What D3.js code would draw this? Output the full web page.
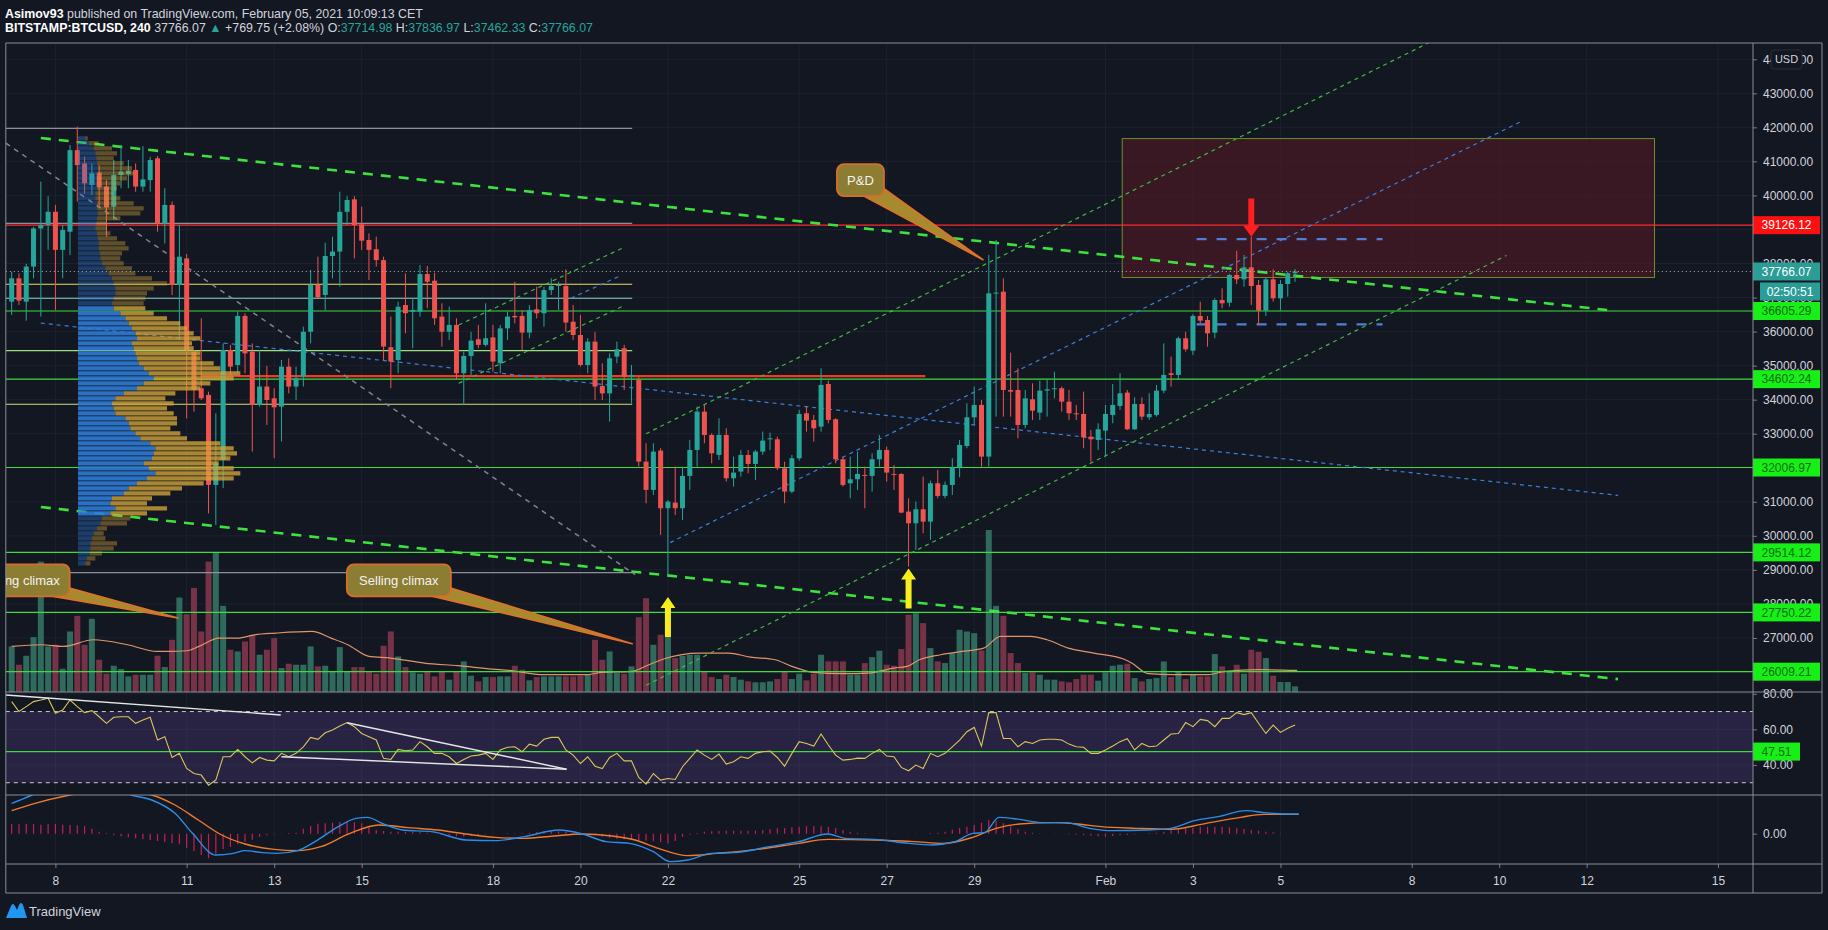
<!DOCTYPE html>
<html lang="en">
<head>
<meta charset="UTF-8">
<title>BITSTAMP:BTCUSD, 240</title>
<script src="https://cdn.jsdelivr.net/npm/d3@7"></script>
<style>
  body { margin: 0; background: #131722; }
  svg text { font-family: "Liberation Sans", Arial, sans-serif; }
</style>
</head>
<body>
<svg id="chart" width="1828" height="930"></svg>
<script>
// ---- data: 4h candles from Jan 7 2021 00:00 UTC ----
const open = [36880,37565,36880,37910,39030,39130,39520,38400,38935,41330,
40940,40305,40670,40260,39670,40600,40630,40750,40260,40450,
41090,39180,39720,37370,38150,35410,34335,34140,31495,32230,
35460,35020,36460,35410,33845,34385,34040,33795,34970,34385,
34675,35995,37370,37075,38220,38350,39520,39885,39150,38690,
38420,38100,35540,35165,36780,36585,36585,37690,37495,36440,
35995,36195,34775,35285,35775,35610,35830,35070,36095,36460,
36460,35970,36655,36540,37220,37340,37340,36290,35900,35020,
35705,34400,34185,35265,35510,34675,34580,32180,31350,32505,
30810,30975,30810,31760,32523,33649,32963,32376,32963,31691,
31887,32376,32112,32474,32836,32836,31985,31299,32278,33600,
33404,33208,34461,33424,32249,31544,31662,31789,31760,32249,
32523,31818,31818,30712,30369,30780,30418,31544,31172,31495,
32014,32640,33482,33845,32327,37124,37173,34285,34285,33257,
34011,33619,34266,34305,34334,33942,33600,33580,32914,32817,
33091,33551,33815,34207,33130,33874,33482,33551,34266,34775,
34726,35803,35440,36459,36341,35969,36928,36850,37663,37535,
37888,37369,36615,37535,36977,37398,37714.98];
const high = [37760,37710,37990,39080,40405,39980,39720,39130,41480,42020,
41140,40940,40890,40450,41040,41480,41040,40940,41450,41140,
41160,40210,39820,39130,38280,35460,36390,34235,33600,35655,
35610,36585,36540,35655,35460,34990,34335,35165,35215,34970,
36145,37810,38200,38610,38790,40110,39980,39980,39670,38885,
38790,38200,36440,36880,37710,36980,37955,37930,37730,36830,
36735,36390,35410,35995,36195,36830,36195,36195,36585,37465,
36635,36780,37320,37320,37565,37465,37830,36780,36490,35805,
35995,35070,35360,35705,35610,35020,34675,32720,32720,32575,
31055,32035,32035,32817,33796,33845,33012,33453,33159,32327,
32523,32523,32523,33061,33032,32914,32180,32376,33698,33796,
33551,34922,34559,33453,32327,32327,32474,32033,32425,32963,
32621,32082,31838,31103,31006,31740,31622,31936,31593,32278,
32817,33894,34383,33992,38250,38690,37565,35382,34922,34285,
34481,34559,34579,34823,34383,34285,33845,34236,33110,33306,
33845,34461,34775,34285,34070,34070,34187,34432,35656,35264,
35851,35998,36517,36879,36459,36977,37271,37692,38377,38250,
38788,37516,37594,37829,37516,37760,37836.97];
const low = [36490,36780,36320,37565,36440,38400,36635,37565,38250,39820,
40060,40010,39670,38790,39280,40210,40210,40110,40110,40110,
38935,38590,37075,35755,33450,33650,33990,30660,30320,31400,
34680,34775,34775,32475,33795,33255,32280,32770,34185,33990,
34385,35655,36980,36635,37565,37320,39130,38150,38400,37515,
37910,35165,34335,34775,35950,35510,36440,36685,36195,35560,
35755,34580,33845,34725,35510,35560,34825,34775,35755,36245,
35460,35805,36390,36145,37075,36635,35995,35755,34970,34775,
33990,33990,33355,35070,34285,33895,32035,30955,31200,30025,
28803,30614,30467,31348,32033,32720,32131,32229,31593,31446,
31740,31838,31642,32376,32523,31936,30957,31250,32210,33061,
32768,33061,33306,32131,31446,31103,31348,30810,31299,32033,
31593,31348,30663,29097,29586,30075,29880,31103,31103,31201,
31720,32572,33257,32033,32033,33500,33502,33502,32866,33159,
33404,33404,33502,34040,33649,33404,33404,32572,32180,32523,
32327,33306,33698,33110,33110,33404,33404,33502,34187,34383,
34579,35411,35313,36243,35558,35803,36684,36733,37398,37320,
36782,36194,36459,36880,36615,37026,37462.33];
const close = [37565,36910,37910,39030,39130,39520,38400,38985,41330,40890,
40355,40650,40240,39650,40600,40700,40730,40260,40470,41040,
39180,39720,37370,38200,35460,34285,34040,31495,32130,35460,
34970,36460,35360,33845,34385,33990,33775,34970,34385,34630,
35995,37370,37005,38220,38350,39520,39865,39130,38670,38400,
38100,35560,35120,36730,36540,36635,37690,37465,36390,35995,
36195,34775,35285,35735,35610,35805,35120,36095,36440,36420,
35970,36635,36540,37220,37340,37370,36265,35900,35020,35705,
34385,34185,35215,35480,34675,34725,32180,31350,32475,30810,
31005,30810,31760,32523,33649,32963,32425,32963,31691,31857,
32376,32112,32474,32797,32865,31985,31299,32278,33580,33385,
33159,34432,33404,32249,31495,31662,31818,31760,32249,32523,
31857,31789,30683,30369,30780,30418,31544,31172,31495,32014,
32670,33482,33845,32327,37124,37144,34285,34236,33257,34040,
33678,34266,34305,34334,33942,33600,33580,32895,32836,33130,
33580,33845,34187,33130,33874,33502,33580,34266,34726,34726,
35803,35480,36459,36321,35949,36928,36830,37663,37535,37888,
37340,36615,37535,36977,37398,37715,37766.07];
const volume = [137,82,109,165,392,137,142,70,182,229,
142,220,97,55,79,69,47,52,52,52,
109,75,157,284,234,313,182,392,419,259,
127,122,152,172,112,127,162,72,85,82,
82,137,77,79,62,135,62,75,75,62,
55,139,182,107,75,59,55,62,47,62,
37,62,92,49,32,45,45,47,47,79,
67,35,45,47,47,47,47,47,49,52,
157,97,122,57,55,77,225,282,142,172,
167,102,109,112,112,62,45,39,52,45,
37,32,29,29,32,39,62,39,55,35,
55,112,92,92,92,52,52,87,105,124,
82,79,129,232,237,207,132,92,87,117,
187,182,177,125,487,259,229,117,87,57,
59,52,37,37,32,29,39,52,52,34,
59,79,82,85,42,32,39,42,92,45,
62,39,52,47,47,114,77,62,82,55,
127,121,102,49,30,30,17];
// volume moving average, read at a few bars
const volMaBar = [0,4,7.1,11.2,15.9,19.9,21.7,24,25.7,28.4,31,33.3,36.2,41.2,43.8,46.1,49,52,56.6,61.2,
  65.9,68.2,72.9,78.7,81,85,87.4,89.5,94.3,98.3,101.3,104.7,107,109.9,114,117.5,121,122.8,124.5,127.4,
  130.3,133.3,135.6,139.7,142,144.9,148.4,152.5,153.6,155.9,159.4,164,166.4,171,176.3];
const volMaVal = [137,142,137,157,142,122,122,124,137,162,162,172,177,182,162,142,107,102,87,79,
  69,65,52,52,59,62,82,100,117,117,105,97,77,59,55,57,72,77,97,112,
  122,132,167,167,157,132,117,99,87,55,52,52,62,67,65];

const rsi = [75.6,70.0,72.8,75.6,76.5,77.5,69.0,70.9,76.5,72.8,
69.4,70.5,67.1,63.4,66.8,67.1,67.1,63.4,65.3,66.8,
54.0,55.9,44.2,46.5,38.0,35.2,34.3,28.6,31.5,44.6,
44.6,48.7,44.6,41.2,44.2,42.7,42.3,46.5,44.6,46.5,
50.2,55.5,54.4,58.1,59.6,61.9,63.8,61.5,57.7,55.9,
54.0,43.7,43.1,48.7,48.0,48.4,53.1,50.2,46.5,46.5,
44.6,40.8,43.1,45.0,45.5,46.5,43.1,48.4,49.9,50.2,
47.4,51.7,50.6,54.4,55.5,55.5,48.4,45.5,40.8,44.6,
39.3,38.0,44.2,46.5,42.3,42.3,33.0,29.2,35.2,31.5,
32.4,31.8,39.0,43.7,48.4,45.5,43.1,46.1,40.5,41.8,
44.6,43.7,46.5,47.4,47.8,44.2,39.3,46.5,53.1,52.1,
50.6,57.4,51.2,45.5,42.7,43.1,43.8,43.7,46.5,48.7,
45.0,44.6,38.6,36.7,39.9,38.0,46.5,44.6,46.5,50.2,
54.0,58.7,61.1,50.6,69.4,69.4,54.9,54.9,50.2,53.1,
52.1,54.0,54.4,54.4,54.0,51.7,50.2,49.9,46.5,46.5,
48.4,50.6,53.1,54.7,48.4,52.1,50.2,50.6,54.0,57.4,
57.7,63.8,61.5,65.6,64.9,61.5,66.2,66.2,69.4,68.3,
69.4,63.4,57.7,62.4,58.3,60.6,62.4];

const macdBar = [0,2.8,6,10,13,16.4,19.2,22.4,24.8,28,30.4,32,34.4,36.4,39.2,41.6,44.8,47.2,48.8,50.8,
  53.6,57.6,62.3,66.3,70.3,75.1,78.3,81.5,84.7,88,90.3,92.7,96,99.1,103.9,107.9,111.9,114.3,118.3,123.1,
  126.2,129.4,131.8,133.4,135.4,138.2,141.4,144.6,147.8,151,155.8,159,162.2,165.4,169.3,171.7,174.9,176.5];
const macdVal = [910,1160,1500,1650,1450,1160,1010,610,10,-640,-590,-510,-570,-590,-510,-240,210,460,490,310,
  110,60,-190,-210,-90,110,-10,-240,-290,-540,-840,-790,-590,-570,-390,-240,-10,-140,-170,-290,
  -340,-240,10,30,490,430,330,330,160,90,110,160,390,510,690,630,590,590];
const signalBar = [0,3.2,8,12,16,19.2,22.4,25.6,28.8,32,36,39.2,42.4,46.4,50.4,54.4,58.4,62.3,66.3,70.3,
  74.3,78.3,82.3,85.5,88.7,92.7,96.7,102.3,107.9,111.9,118.3,123.8,127.8,131.8,135,138.2,143,146.2,149.4,154.2,
  159,163.8,168.5,171.7,176.5];
const signalVal = [690,910,1160,1300,1250,1160,860,410,-40,-310,-470,-510,-390,10,260,180,110,-10,-110,-140,
  -70,-10,-70,-190,-440,-660,-590,-470,-290,-170,-190,-240,-290,-110,160,290,330,290,210,160,
  130,310,490,580,580];
const macdHist = [290,280,300,290,270,280,290,270,260,250,
230,150,60,20,-40,-80,-110,-140,-170,-190,
-220,-250,-290,-320,-420,-520,-640,-740,-600,-460,
-400,-320,-240,-180,-90,-50,-20,-10,20,30,
150,230,300,310,330,350,360,340,310,220,
110,80,60,60,60,50,40,30,-10,-40,
-60,-80,-90,-70,-40,-20,-10,0,10,10,
10,30,50,70,90,70,60,20,-10,-40,
-60,-90,-120,-150,-170,-190,-200,-210,-230,-260,
-290,-220,-90,-30,20,60,70,80,90,90,
90,90,90,110,130,160,170,190,210,220,
230,220,210,170,110,60,30,10,-10,-10,
-10,-10,-10,-10,-10,0,20,30,60,120,
170,210,260,330,410,380,310,220,130,60,
30,10,0,-10,-10,-20,-30,-40,-60,-80,
-90,-70,-50,-40,-20,0,20,30,60,100,
130,160,180,210,210,210,210,190,160,140,
110,90,60,40,10,0,0];

// fixed range volume profile, rows from the top
const vpTopPrice = 41677, vpStep = 146.9, vpStartBar = 9.1;
const vpValueHigh = 36700, vpValueLow = 30650;
const vpUp = [22,32,47,52,55,57,59,60,57,57, 57,52,52,57,57,59,57,55,52,57,
  59,62,62,65,67,72,82,92,102,107, 112,112,107,102,107,127,142,152,162,172,
  177,162,167,172,177,182,197,212,227,197, 177,137,112,102,107,112,142,152,157,172,
  187,217,232,227,222,197,212,232,207,177, 152,137,102,97,112,97,72,67,57,47,
  42,37,37,35,27,22];
const vpDown = [7,30,55,65,52,80,103,107,90,70, 60,55,75,110,140,128,70,32,35,40,
  58,80,90,67,60,65,80,80,120,160, 115,95,95,95,95,100,125,155,165,175,
  190,180,180,195,190,225,230,275,240,200, 190,155,150,185,160,175,155,145,120,135,
  140,210,235,250,235,225,255,255,260,200, 160,140,120,110,155,110,85,80,30,30,
  40,80,70,37,25,15];

// horizontal levels
const supportLevels = [36605.29, 34602.24, 32006.97, 29514.12, 27750.22, 26009.21];
const resistanceLevel = 39126.12;
const lastPrice = 37766.07;
const countdown = "02:50:51";
const dayChange = "+769.75 (+2.08%)";
const rsiLevel = 47.51;
const profileLines = [
  { p: 41970, c: "#8d9099" }, { p: 39180, c: "#8d9099" }, { p: 37390, c: "#e8dc6a" },
  { p: 36978, c: "#8fd3c8" }, { p: 35440, c: "#9be07a" }, { p: 33865, c: "#cfe07a" },
  { p: 28920, c: "#8d9099" }
];
const pocLine = { i1: 26, i2: 125.3, p: 34690 };

// drawings in bar / price units
const trendLines = [
  { i1: 4, p1: 41687, i2: 218.8, p2: 36634, k: "lime" },
  { i1: 4, p1: 30845, i2: 220.3, p2: 25790, k: "lime" },
  { i1: 4, p1: 36250, i2: 220.3, p2: 31190, k: "blue" },
  { i1: -0.8, p1: 41537, i2: 85.5, p2: 28860, k: "gray" },
  { i1: 87, p1: 33000, i2: 194.8, p2: 44536, k: "green" },
  { i1: 87, p1: 25610, i2: 205, p2: 38236, k: "green" },
  { i1: 90.3, p1: 29800, i2: 206.8, p2: 42150, k: "blue" },
  { i1: 61.3, p1: 36195, i2: 83.7, p2: 38446, k: "green" },
  { i1: 61.3, p1: 34481, i2: 83.7, p2: 36733, k: "green" },
  { i1: 75.7, p1: 36880, i2: 83.7, p2: 37663, k: "blue" }
];
const targetZone = { i1: 152.3, i2: 225.3, pTop: 41670, pBottom: 37590 };
const rangeLines = [{ i1: 162.5, i2: 188, p: 38716 }, { i1: 162.5, i2: 188, p: 36213 }];
const upArrows = [{ i: 90, tip: 28205, base: 27030 }, { i: 123, tip: 29040, base: 27866 }];
const downArrow = { i: 170, tip: 38787, base: 39913 };
const callouts = [
  { text: "P&D", i: 116.4, p: 40450, w: 47, ti: 133.2, tp: 38110 },
  { text: "Selling climax", i: 53.1, p: 28690, w: 104, ti: 85.1, tp: 26830 },
  { text: "Buying climax", i: 1.1, p: 28690, w: 100, ti: 22.8, tp: 27585 }
];
const rsiLines = [
  { i1: -0.8, r1: 79.3, i2: 36.9, r2: 68.1 },
  { i1: 46, r1: 63.7, i2: 76.1, r2: 37.6 },
  { i1: 37, r1: 44.6, i2: 76.1, r2: 37.6 }
];

// axis ticks
const priceTicks = [26000,27000,28000,29000,30000,31000,32000,33000,34000,35000,
  36000,37000,38000,39000,40000,41000,42000,43000,44000];
const rsiTicks = [40, 60, 80];
const macdTicks = [0];
const dateTicks = ["2021-01-08","2021-01-11","2021-01-13","2021-01-15","2021-01-18","2021-01-20",
  "2021-01-22","2021-01-25","2021-01-27","2021-01-29","2021-02-01","2021-02-03","2021-02-05",
  "2021-02-08","2021-02-10","2021-02-12","2021-02-15"];
const dateLabels = ["8","11","13","15","18","20","22","25","27","29","Feb","3","5","8","10","12","15"];

// ---- layout ----
const W = 1828, H = 930;
const paneLeft = 5.8, axisX = 1753, outerRight = 1822;
const mainTop = 43, mainBottom = 692, rsiBottom = 795, macdBottom = 864, timeBottom = 893;
const TEAL = "#26a69a", RED = "#ef5350";
const FONT = "Liberation Sans, Arial, sans-serif";

const svg = d3.select("#chart");
svg.append("rect").attr("width", W).attr("height", H).attr("fill", "#131722");

const t0 = Date.UTC(2021, 0, 7), barMs = 4 * 3600 * 1000;
const x = d3.scaleUtc()
  .domain([new Date(Date.UTC(2021, 0, 6, 20, 47)), new Date(Date.UTC(2021, 1, 15, 19, 13))])
  .range([paneLeft, axisX]);
const xi = i => x(new Date(t0 + i * barMs));
const y = d3.scaleLinear().domain([25412, 44478]).range([mainBottom, mainTop]);
const yVol = d3.scaleLinear().domain([0, 490]).range([mainBottom, mainBottom - 163]);
const yRsi = d3.scaleLinear().domain([23.1, 81]).range([rsiBottom, mainBottom]);
const yMacd = d3.scaleLinear().domain([-910, 1160]).range([macdBottom, rsiBottom]);
const tickDates = dateTicks.map(s => new Date(s + "T00:00:00Z"));

const defs = svg.append("defs");
function addClip(id, y0, y1) {
  defs.append("clipPath").attr("id", id).append("rect")
    .attr("x", paneLeft).attr("y", y0).attr("width", axisX - paneLeft).attr("height", y1 - y0);
}
addClip("clipMain", mainTop, mainBottom);
addClip("clipRsi", mainBottom, rsiBottom);
addClip("clipMacd", rsiBottom, macdBottom);

// grid
const grid = svg.append("g").attr("stroke", "#1d2130").attr("stroke-width", 1);
grid.selectAll(".vg").data(tickDates).join("line")
  .attr("x1", d => x(d)).attr("x2", d => x(d)).attr("y1", mainTop).attr("y2", macdBottom);
grid.selectAll(".hg").data(priceTicks).join("line")
  .attr("x1", paneLeft).attr("x2", axisX).attr("y1", d => y(d)).attr("y2", d => y(d));
grid.selectAll(".rg").data(rsiTicks).join("line")
  .attr("x1", paneLeft).attr("x2", axisX).attr("y1", d => yRsi(d)).attr("y2", d => yRsi(d));

// ---- main pane ----
const main = svg.append("g").attr("clip-path", "url(#clipMain)");

main.append("rect")
  .attr("x", xi(targetZone.i1)).attr("y", y(targetZone.pTop))
  .attr("width", xi(targetZone.i2) - xi(targetZone.i1))
  .attr("height", y(targetZone.pBottom) - y(targetZone.pTop))
  .attr("fill", "#4a1824").attr("fill-opacity", 0.7)
  .attr("stroke", "#6f8f2a").attr("stroke-width", 1);

// volume
main.selectAll(".vol").data(volume).join("rect")
  .attr("x", (d, i) => xi(i) - 3).attr("width", 6)
  .attr("y", d => yVol(d)).attr("height", d => mainBottom - yVol(d))
  .attr("fill", (d, i) => close[i] >= open[i] ? "#2f6a5d" : "#763246");

main.append("path")
  .datum(volMaBar.map((b, k) => [b, volMaVal[k]]))
  .attr("d", d3.line().x(d => xi(d[0])).y(d => yVol(d[1])).curve(d3.curveMonotoneX))
  .attr("fill", "none").attr("stroke", "#e0946a").attr("stroke-width", 1.2);

// horizontal levels
main.selectAll(".sup").data(supportLevels).join("line")
  .attr("x1", paneLeft).attr("x2", axisX).attr("y1", d => y(d)).attr("y2", d => y(d))
  .attr("stroke", "#3ddc3d").attr("stroke-width", 1.2);
main.append("line").attr("x1", paneLeft).attr("x2", axisX)
  .attr("y1", y(resistanceLevel)).attr("y2", y(resistanceLevel))
  .attr("stroke", "#ff2a2a").attr("stroke-width", 1.2);
main.selectAll(".pl").data(profileLines).join("line")
  .attr("x1", paneLeft).attr("x2", xi(85.1)).attr("y1", d => y(d.p)).attr("y2", d => y(d.p))
  .attr("stroke", d => d.c).attr("stroke-width", 1.1);
main.append("line").attr("x1", xi(pocLine.i1)).attr("x2", xi(pocLine.i2))
  .attr("y1", y(pocLine.p)).attr("y2", y(pocLine.p))
  .attr("stroke", "#f03a22").attr("stroke-width", 2.2);

// trend lines
const lineStyle = {
  lime: { c: "#3ee23e", w: 2.6, d: "10,8" },
  green: { c: "#43b843", w: 1.2, d: "4,4" },
  blue: { c: "#3d7fd9", w: 1.2, d: "4,4" },
  gray: { c: "#80848e", w: 1.5, d: "5,5" }
};
main.selectAll(".tl").data(trendLines).join("line")
  .attr("x1", d => xi(d.i1)).attr("y1", d => y(d.p1))
  .attr("x2", d => xi(d.i2)).attr("y2", d => y(d.p2))
  .attr("stroke", d => lineStyle[d.k].c).attr("stroke-width", d => lineStyle[d.k].w)
  .attr("stroke-dasharray", d => lineStyle[d.k].d);
main.selectAll(".rl").data(rangeLines).join("line")
  .attr("x1", d => xi(d.i1)).attr("x2", d => xi(d.i2)).attr("y1", d => y(d.p)).attr("y2", d => y(d.p))
  .attr("stroke", "#4f7fd8").attr("stroke-width", 2.4).attr("stroke-dasharray", "10,10");

// candles
const bars = d3.range(close.length);
main.selectAll(".wick").data(bars).join("line")
  .attr("x1", i => xi(i)).attr("x2", i => xi(i)).attr("y1", i => y(high[i])).attr("y2", i => y(low[i]))
  .attr("stroke", i => close[i] >= open[i] ? TEAL : RED).attr("stroke-width", 1);
main.selectAll(".body").data(bars).join("rect")
  .attr("x", i => xi(i) - 2.5).attr("width", 5)
  .attr("y", i => y(Math.max(open[i], close[i])))
  .attr("height", i => Math.max(1, Math.abs(y(open[i]) - y(close[i]))))
  .attr("fill", i => close[i] >= open[i] ? TEAL : RED);

// volume profile
const vpW = d3.scaleLinear().domain([0, 300]).range([0, 100]);
const vpRows = vpUp.map((u, k) => ({ p: vpTopPrice - k * vpStep, up: u, down: vpDown[k] }));
const rowH = Math.abs(y(0) - y(vpStep)) * 0.85;
const vpX0 = xi(vpStartBar);
const inVA = d => d.p <= vpValueHigh && d.p >= vpValueLow;
main.selectAll(".vpu").data(vpRows).join("rect")
  .attr("x", vpX0).attr("y", d => y(d.p) - rowH / 2).attr("height", rowH)
  .attr("width", d => vpW(d.up)).attr("fill", "#2e7bd6").attr("fill-opacity", d => inVA(d) ? 0.9 : 0.4);
main.selectAll(".vpd").data(vpRows).join("rect")
  .attr("x", d => vpX0 + vpW(d.up)).attr("y", d => y(d.p) - rowH / 2).attr("height", rowH)
  .attr("width", d => vpW(d.down)).attr("fill", "#d4a53a").attr("fill-opacity", d => inVA(d) ? 0.78 : 0.4);

// last price line
main.append("line").attr("x1", paneLeft).attr("x2", axisX).attr("y1", y(lastPrice)).attr("y2", y(lastPrice))
  .attr("stroke", "#aeb4bf").attr("stroke-dasharray", "1,3");

// arrows
function arrowPath(cx, tipY, baseY, shaft, head, headH) {
  const s = baseY > tipY ? 1 : -1, hy = tipY + s * headH;
  return `M${cx},${tipY}L${cx + head / 2},${hy}L${cx + shaft / 2},${hy}L${cx + shaft / 2},${baseY}` +
    `L${cx - shaft / 2},${baseY}L${cx - shaft / 2},${hy}L${cx - head / 2},${hy}Z`;
}
main.selectAll(".ua").data(upArrows).join("path")
  .attr("d", d => arrowPath(xi(d.i), y(d.tip), y(d.base), 6, 15, 11)).attr("fill", "#f7ee1e");
main.append("path")
  .attr("d", arrowPath(xi(downArrow.i), y(downArrow.tip), y(downArrow.base), 6, 16, 11))
  .attr("fill", "#ff1f1f");

// callouts
callouts.forEach(c => {
  const cx = xi(c.i), cy = y(c.p), h = 32, left = cx - c.w / 2, right = cx + c.w / 2, bottom = cy + h / 2;
  main.append("path")
    .attr("d", `M${right - 22},${bottom - 1}L${right - 2},${bottom - 9}L${xi(c.ti)},${y(c.tp)}Z`)
    .attr("fill", "#a88a2e").attr("stroke", "#e0702a").attr("stroke-width", 1.6).attr("stroke-linejoin", "round");
  main.append("rect").attr("x", left).attr("y", cy - h / 2).attr("width", c.w).attr("height", h)
    .attr("rx", 7).attr("fill", "#8d7d33").attr("stroke", "#d96d2a").attr("stroke-width", 1.8);
  main.append("text").attr("x", cx).attr("y", cy).attr("dy", "0.36em").attr("text-anchor", "middle")
    .attr("fill", "#f2f2f2").attr("font-size", 13).attr("font-family", FONT).text(c.text);
});

// ---- RSI pane ----
const rsiG = svg.append("g").attr("clip-path", "url(#clipRsi)");
rsiG.append("rect").attr("x", paneLeft).attr("width", axisX - paneLeft)
  .attr("y", yRsi(70)).attr("height", yRsi(30) - yRsi(70)).attr("fill", "#7e57c2").attr("fill-opacity", 0.2);
rsiG.selectAll(".band").data([70, 30]).join("line")
  .attr("x1", paneLeft).attr("x2", axisX).attr("y1", d => yRsi(d)).attr("y2", d => yRsi(d))
  .attr("stroke", "#c9ccd4").attr("stroke-dasharray", "4,4");
rsiG.append("line").attr("x1", paneLeft).attr("x2", axisX)
  .attr("y1", yRsi(rsiLevel)).attr("y2", yRsi(rsiLevel)).attr("stroke", "#3ddc3d").attr("stroke-width", 1.4);
rsiG.append("path").datum(rsi)
  .attr("d", d3.line().x((d, i) => xi(i)).y(d => yRsi(d)))
  .attr("fill", "none").attr("stroke", "#d8c65a").attr("stroke-width", 1.1);
rsiG.selectAll(".rtl").data(rsiLines).join("line")
  .attr("x1", d => xi(d.i1)).attr("y1", d => yRsi(d.r1)).attr("x2", d => xi(d.i2)).attr("y2", d => yRsi(d.r2))
  .attr("stroke", "#e6e6e6").attr("stroke-width", 1.4);

// ---- MACD pane ----
const macdG = svg.append("g").attr("clip-path", "url(#clipMacd)");
macdG.selectAll(".hist").data(macdHist).join("line")
  .attr("x1", (d, i) => xi(i)).attr("x2", (d, i) => xi(i))
  .attr("y1", yMacd(0)).attr("y2", d => yMacd(d))
  .attr("stroke", "#e91e63").attr("stroke-width", 1.2).attr("stroke-opacity", 0.85);
const mline = d3.line().x(d => xi(d[0])).y(d => yMacd(d[1])).curve(d3.curveMonotoneX);
macdG.append("path").datum(signalBar.map((b, k) => [b, signalVal[k]])).attr("d", mline)
  .attr("fill", "none").attr("stroke", "#f07a2c").attr("stroke-width", 1.4);
macdG.append("path").datum(macdBar.map((b, k) => [b, macdVal[k]])).attr("d", mline)
  .attr("fill", "none").attr("stroke", "#2a8ee8").attr("stroke-width", 1.4);

// ---- axes ----
function styleAxis(g) {
  g.select(".domain").remove();
  g.attr("font-family", FONT).attr("font-size", 12);
  g.selectAll("line").attr("stroke", "#787b86");
  g.selectAll("text").attr("fill", "#d1d4dc");
}
svg.append("g").attr("transform", `translate(${axisX},0)`)
  .call(d3.axisRight(y).tickValues(priceTicks).tickFormat(d3.format(".2f")).tickSize(4).tickPadding(6))
  .call(styleAxis);
svg.append("g").attr("transform", `translate(${axisX},0)`)
  .call(d3.axisRight(yRsi).tickValues(rsiTicks).tickFormat(d3.format(".2f")).tickSize(4).tickPadding(6))
  .call(styleAxis);
svg.append("g").attr("transform", `translate(${axisX},0)`)
  .call(d3.axisRight(yMacd).tickValues(macdTicks).tickFormat(d3.format(".2f")).tickSize(4).tickPadding(6))
  .call(styleAxis);
svg.append("g").attr("transform", `translate(0,${macdBottom})`)
  .call(d3.axisBottom(x).tickValues(tickDates).tickFormat((d, i) => dateLabels[i]).tickSize(4).tickPadding(8))
  .call(styleAxis);

// USD box over the top tick
svg.append("rect").attr("x", 1771).attr("y", 50).attr("width", 31).attr("height", 19).attr("rx", 3)
  .attr("fill", "#131722").attr("stroke", "#2a2e39");
svg.append("text").attr("x", 1786.5).attr("y", 59.5).attr("dy", "0.35em").attr("text-anchor", "middle")
  .attr("fill", "#d1d4dc").attr("font-size", 11).attr("font-family", FONT).text("USD");

// axis price labels
function axisTag(val, yPos, bg, fg, x0 = axisX, w = 67) {
  svg.append("rect").attr("x", x0).attr("y", yPos - 9).attr("width", w).attr("height", 18).attr("fill", bg);
  svg.append("text").attr("x", x0 + w / 2).attr("y", yPos).attr("dy", "0.36em").attr("text-anchor", "middle")
    .attr("fill", fg).attr("font-size", 12).attr("font-family", FONT).text(val);
}
supportLevels.forEach(p => axisTag(d3.format(".2f")(p), y(p), "#17f017", "#116b11"));
axisTag(d3.format(".2f")(resistanceLevel), y(resistanceLevel), "#ff1010", "#ffffff");
axisTag(d3.format(".2f")(lastPrice), y(lastPrice), "#2a9d96", "#ffffff");
axisTag(countdown, y(lastPrice) + 20, "#2a9d96", "#ffffff", 1760, 60);
axisTag(d3.format(".2f")(rsiLevel), yRsi(rsiLevel), "#17f017", "#116b11", axisX, 47);

// pane borders
const border = svg.append("g").attr("stroke", "#8a8d96").attr("stroke-width", 1);
[mainTop, mainBottom, rsiBottom, macdBottom, timeBottom].forEach(v =>
  border.append("line").attr("x1", paneLeft).attr("x2", outerRight).attr("y1", v).attr("y2", v));
[paneLeft, axisX, outerRight].forEach(v =>
  border.append("line").attr("x1", v).attr("x2", v).attr("y1", mainTop).attr("y2", timeBottom));

// header
const hdr = svg.append("g").attr("font-family", FONT).attr("font-size", 12.4).attr("fill", "#d1d4dc");
const l1 = hdr.append("text").attr("x", 5).attr("y", 17.5);
l1.append("tspan").attr("font-weight", "bold").attr("fill", "#ffffff").text("Asimov93");
l1.append("tspan").text(" published on TradingView.com, February 05, 2021 10:09:13 CET");
const l2 = hdr.append("text").attr("x", 5).attr("y", 31.5);
const f2 = d3.format(".2f");
l2.append("tspan").attr("font-weight", "bold").attr("fill", "#ffffff").text("BITSTAMP:BTCUSD, 240");
l2.append("tspan").text(" " + f2(lastPrice) + " ");
l2.append("tspan").attr("fill", TEAL).text("▲");
l2.append("tspan").text(" " + dayChange + " O:");
l2.append("tspan").attr("fill", TEAL).text(f2(open[176]));
l2.append("tspan").text(" H:");
l2.append("tspan").attr("fill", TEAL).text(f2(high[176]));
l2.append("tspan").text(" L:");
l2.append("tspan").attr("fill", TEAL).text(f2(low[176]));
l2.append("tspan").text(" C:");
l2.append("tspan").attr("fill", TEAL).text(f2(close[176]));

// TradingView mark
svg.append("path").attr("d", "M6,918 L11,906 Q13,902 15,906 L17,910 L19,905 Q21,901 23,905 L27,918 Z")
  .attr("fill", "#2196f3");
svg.append("text").attr("x", 29).attr("y", 911).attr("dy", "0.35em").attr("fill", "#d1d4dc")
  .attr("font-size", 13).attr("font-family", FONT).text("TradingView");
</script>
</body>
</html>
